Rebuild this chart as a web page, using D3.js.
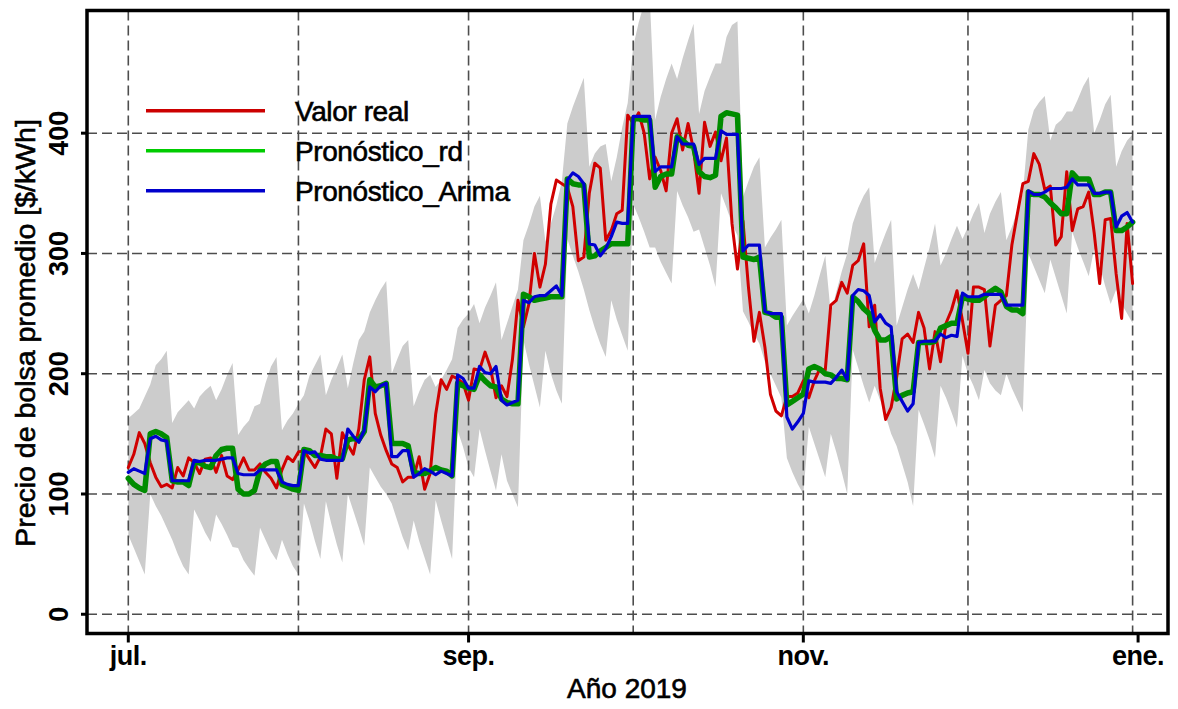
<!DOCTYPE html>
<html>
<head>
<meta charset="utf-8">
<script src="https://cdn.jsdelivr.net/npm/d3@7"></script>
<style>
  body { margin: 0; background: #fff; }
  svg { display: block; font-family: "Liberation Sans", Arial, sans-serif; }
  .heavy { stroke: #000; stroke-width: 0.6px; }
</style>
</head>
<body>
<svg id="chart" width="1178" height="709"></svg>
<script>
// datos diarios, 1 jul 2019 -> 31 dic 2019
const startDate = '2019-07-01';

const valorReal = [
  122,133,151,142,126,114,106,108,105,122,115,130,126,117,129,130,118,132,115,112,
  120,130,120,120,125,118,113,105,120,131,127,135,136,129,122,131,154,150,113,151,
  141,133,154,195,214,167,149,136,125,122,110,114,114,131,104,117,166,195,187,198,
  196,192,178,204,203,218,205,180,190,181,212,261,239,258,300,272,291,341,361,358,
  355,339,294,297,350,375,371,311,319,333,336,415,408,417,400,362,380,369,352,400,
  412,386,408,386,350,409,389,401,377,396,325,287,327,272,227,251,222,183,169,165,
  181,181,184,194,180,194,204,203,257,261,276,267,290,294,308,239,257,188,162,172,
  197,229,233,226,251,238,204,235,210,242,253,269,244,217,272,272,270,223,257,261,
  265,307,333,358,360,383,374,353,356,307,314,368,319,337,339,351,317,275,328,329,
  283,246,325,275
];

const pronosticoRd = [
  113,108,105,103, 150,152,150,147, 111,110,110,107, 126,126,123,122,
  132,137,138,138, 104,100,100,103, 120,125,127,127, 108,106,104,103,
  137,136,132,132, 131,131,129,129, 145,146,145,152, 195,189,190,192,
  142,142,142,140, 118,117,117,119, 122,120,119,115, 192,190,188,187,
  199,194,190,189, 179,176,175,175, 266,264,261,262, 263,264,264,264,
  362,358,357,357, 297,298,302,305, 308,308,308,308, 412,412,411,411,
  355,364,366,366, 397,394,390,389, 368,364,363,365, 414,417,416,415,
  297,296,295,297, 251,250,247,247, 174,177,180,183, 204,206,204,200,
  199,196,196,195, 264,260,254,250, 236,228,228,231, 179,182,184,185,
  226,226,226,227, 238,240,242,242, 264,262,261,261, 264,268,271,268,
  256,253,253,250, 351,349,349,347, 342,338,333,333, 367,362,362,362,
  349,349,351,351, 319,319,322,326
];

const pronosticoArima = [
  118,121,119,117, 146,148,145,144, 111,111,111,111, 128,127,128,128,
  128,129,130,130, 117,116,116,116, 120,120,120,120, 110,108,107,107,
  136,134,135,129, 128,128,128,128, 154,148,143,153, 189,185,190,192,
  131,131,136,136, 114,117,121,119, 116,119,117,115, 199,196,188,188,
  206,201,200,206, 178,174,176,178, 261,259,264,265, 265,269,273,265,
  361,367,364,358, 308,307,298,304, 314,326,325,325, 414,414,414,414,
  368,372,372,372, 397,391,391,391, 374,379,379,379, 402,399,399,399,
  302,307,307,307, 252,250,250,250, 164,154,160,167, 194,193,193,193,
  192,197,203,195, 265,270,269,265, 243,249,242,239, 185,177,169,175,
  226,227,227,227, 233,230,232,231, 267,264,264,264, 266,266,266,266,
  257,257,257,257, 352,349,349,351, 354,354,354,355, 362,357,357,357,
  350,350,351,351, 322,331,334,326
];

// intervalo (zona gris)
const bandaSup = [
  163,167,171,181, 191,207,212,219, 159,168,173,178, 171,181,186,190,
  178,187,199,209, 149,156,161,173, 175,192,206,214, 153,161,167,175,
  182,198,207,216, 182,195,205,216, 188,209,228,235, 251,261,270,277,
  200,212,223,228, 173,185,195,199, 189,195,203,212, 238,245,250,258,
  242,255,265,276, 228,242,256,270, 311,324,339,348, 310,325,340,360,
  408,422,434,446, 372,383,389,391, 360,380,405,425, 472,492,508,515,
  411,430,445,458, 445,462,477,491, 416,435,447,458, 458,480,490,493,
  347,360,372,380, 305,313,320,328, 240,248,255,262, 250,265,282,298,
  250,268,285,300, 325,338,348,355, 292,305,317,328, 240,255,270,283,
  270,288,305,325, 290,300,312,323, 312,322,333,342, 317,333,343,351,
  311,322,336,350, 403,419,426,431, 394,407,411,418, 418,428,439,447,
  400,411,424,432, 372,385,394,399
];

const bandaInf = [
  66,55,44,33, 100,90,82,72, 62,50,40,33, 87,78,68,60,
  83,75,66,56, 55,45,38,32, 72,62,52,45, 62,50,40,33,
  92,78,61,46, 94,75,58,43, 100,86,72,57, 122,114,106,100,
  92,78,64,53, 78,61,47,33, 95,78,62,46, 153,139,122,114,
  154,136,119,103, 133,111,100,89, 228,208,190,172, 219,200,186,175,
  312,298,285,270, 253,238,225,214, 261,245,232,219, 341,330,318,305,
  305,293,284,275, 352,340,330,318, 320,305,290,272, 350,338,325,315,
  252,243,233,225, 210,200,190,180, 130,118,108,100, 156,142,128,114,
  150,135,118,100, 220,205,190,176, 190,178,165,150, 140,125,110,90,
  170,158,145,130, 190,180,168,155, 215,200,190,178, 203,192,186,182,
  200,188,178,168, 300,289,278,267, 295,280,265,250, 318,305,293,281,
  304,290,273,258, 270,258,250,242
];

const yTicks = [0, 100, 200, 300, 400];
const xTickDates = ['2019-07-01', '2019-09-01', '2019-11-01', '2020-01-01'];
const xTickLabels = ['jul.', 'sep.', 'nov.', 'ene.'];
const xGridDates = ['2019-07-01', '2019-08-01', '2019-09-01', '2019-10-01', '2019-11-01', '2019-12-01', '2019-12-31'];
const legendLabels = ['Valor real', 'Pronóstico_rd', 'Pronóstico_Arima'];

const parseDay = d3.utcParse('%Y-%m-%d');
const day0 = parseDay(startDate);

const rows = valorReal.map((v, i) => ({
  date: d3.utcDay.offset(day0, i),
  real: v,
  rd: pronosticoRd[i],
  arima: pronosticoArima[i],
  hi: bandaSup[i],
  lo: bandaInf[i]
}));

const svg = d3.select('#chart');

// marco del grafico
const plot = { left: 87, right: 1168, top: 10.5, bottom: 633.5 };

const xScale = d3.scaleUtc()
  .domain([parseDay('2019-07-01'), parseDay('2020-01-01')])
  .range([128.3, 1138.1]);

const yScale = d3.scaleLinear()
  .domain([-16, 502])
  .range([plot.bottom, plot.top]);

svg.append('defs').append('clipPath').attr('id', 'clip')
  .append('rect')
    .attr('x', plot.left).attr('y', plot.top)
    .attr('width', plot.right - plot.left)
    .attr('height', plot.bottom - plot.top);

const inner = svg.append('g').attr('clip-path', 'url(#clip)');

// banda gris
inner.append('path')
  .datum(rows)
  .attr('fill', '#cccccc')
  .attr('d', d3.area()
    .x(d => xScale(d.date))
    .y0(d => yScale(d.lo))
    .y1(d => yScale(d.hi)));

// rejilla punteada
inner.selectAll('.grid-h').data(yTicks).enter().append('line')
  .attr('class', 'grid-h')
  .attr('x1', plot.left).attr('x2', plot.right)
  .attr('y1', d => yScale(d)).attr('y2', d => yScale(d))
  .attr('stroke', '#4d4d4d').attr('stroke-width', 1.6)
  .attr('stroke-dasharray', '10,5');

inner.selectAll('.grid-v').data(xGridDates).enter().append('line')
  .attr('class', 'grid-v')
  .attr('x1', d => xScale(parseDay(d))).attr('x2', d => xScale(parseDay(d)))
  .attr('y1', plot.top).attr('y2', plot.bottom)
  .attr('stroke', '#4d4d4d').attr('stroke-width', 1.6)
  .attr('stroke-dasharray', '10,5');

// series
const series = [
  { key: 'real', color: '#d00000', width: 3 },
  { key: 'rd', color: '#008c00', width: 5.5 },
  { key: 'arima', color: '#0000d0', width: 3.2 }
];

series.forEach(s => {
  inner.append('path')
    .datum(rows)
    .attr('fill', 'none')
    .attr('stroke', s.color)
    .attr('stroke-width', s.width)
    .attr('stroke-linejoin', 'round')
    .attr('stroke-linecap', 'round')
    .attr('d', d3.line()
      .x(d => xScale(d.date))
      .y(d => yScale(d[s.key])));
});

// marco
svg.append('rect')
  .attr('x', plot.left).attr('y', plot.top)
  .attr('width', plot.right - plot.left)
  .attr('height', plot.bottom - plot.top)
  .attr('fill', 'none')
  .attr('stroke', '#000')
  .attr('stroke-width', 3.5);

// eje y: marcas y etiquetas giradas
const yAxisG = svg.append('g');
yAxisG.selectAll('line').data(yTicks).enter().append('line')
  .attr('x1', plot.left - 6).attr('x2', plot.left)
  .attr('y1', d => yScale(d)).attr('y2', d => yScale(d))
  .attr('stroke', '#000').attr('stroke-width', 3);

yAxisG.selectAll('text').data(yTicks).enter().append('text')
  .attr('transform', d => `translate(68,${yScale(d)}) rotate(-90)`)
  .attr('text-anchor', 'middle')
  .attr('font-size', 27)
  .attr('font-weight', 'bold')
  .text(d => d);

// eje x
const xAxisG = svg.append('g');
xAxisG.selectAll('line').data(xTickDates).enter().append('line')
  .attr('x1', d => xScale(parseDay(d))).attr('x2', d => xScale(parseDay(d)))
  .attr('y1', plot.bottom).attr('y2', plot.bottom + 9)
  .attr('stroke', '#000').attr('stroke-width', 3);

xAxisG.selectAll('text').data(xTickDates).enter().append('text')
  .attr('x', d => xScale(parseDay(d)))
  .attr('y', 665)
  .attr('text-anchor', 'middle')
  .attr('font-size', 27)
  .attr('font-weight', 'bold')
  .attr('letter-spacing', -0.5)
  .text((d, i) => xTickLabels[i]);

// titulos de ejes
svg.append('text')
  .attr('class', 'heavy')
  .attr('x', 627).attr('y', 698)
  .attr('text-anchor', 'middle')
  .attr('font-size', 28)
  .text('Año 2019');

svg.append('text')
  .attr('class', 'heavy')
  .attr('transform', 'translate(35,333) rotate(-90)')
  .attr('text-anchor', 'middle')
  .attr('font-size', 28.5)
  .text('Precio de bolsa promedio [$/kWh]');

// leyenda
const legendColors = ['#cc0000', '#00cc00', '#0000cc'];
const legend = svg.append('g');
legendLabels.forEach((label, i) => {
  const ly = 110.7 + i * 40;
  legend.append('line')
    .attr('x1', 146).attr('x2', 265)
    .attr('y1', ly).attr('y2', ly)
    .attr('stroke', legendColors[i])
    .attr('stroke-width', 3.5);
  legend.append('text')
    .attr('class', 'heavy')
    .attr('x', 295).attr('y', ly + 10.3)
    .attr('font-size', 28)
    .attr('letter-spacing', -0.4)
    .text(label);
});
</script>
</body>
</html>
